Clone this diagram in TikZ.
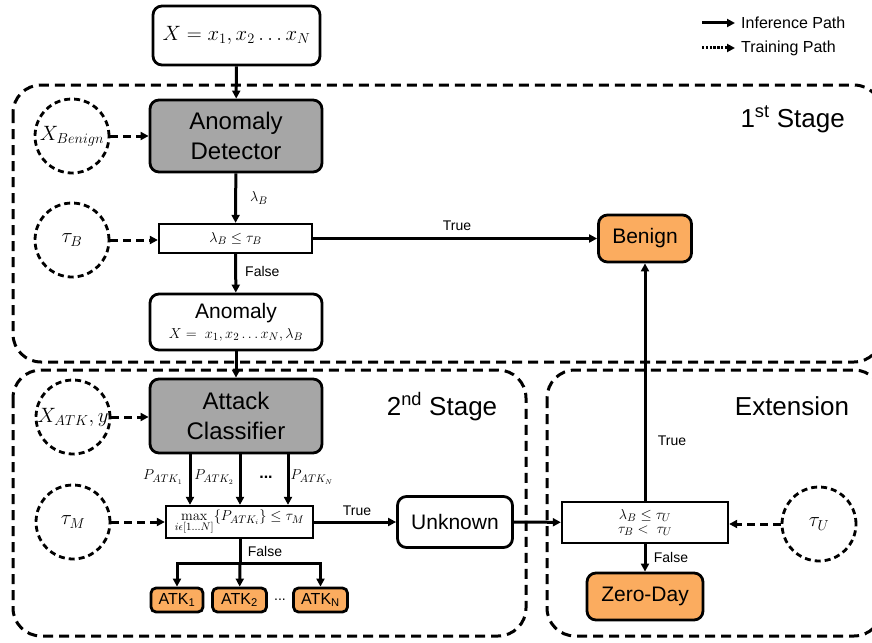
\documentclass[tikz,border=0pt]{standalone}
\usepackage[no-math]{fontspec}
\setmainfont{Liberation Sans}
\usetikzlibrary{arrows.meta}
\definecolor{boxgray}{RGB}{166,166,166}
\definecolor{boxorange}{RGB}{251,172,95}
\begin{document}
\begin{tikzpicture}[x=1pt,y=-1pt,
  tipA/.style={-{Triangle[length=8pt,width=8pt]}},
  flow/.style={line width=3pt,tipA},
  train/.style={line width=3pt,dash pattern=on 8pt off 5pt,tipA},
  stagebox/.style={line width=3pt,dash pattern=on 10pt off 6pt,rounded corners=28pt},
  rbox/.style={draw,line width=2.8pt,rounded corners=9pt,inner sep=0pt,align=center},
  grayblock/.style={rbox,fill=boxgray,font=\fontsize{24}{30}\selectfont},
  whiteblock/.style={rbox,fill=white,font=\fontsize{21}{24}\selectfont},
  orangeblock/.style={rbox,fill=boxorange,font=\fontsize{21}{24}\selectfont},
  atkblock/.style={rbox,rounded corners=5pt,fill=boxorange,font=\fontsize{16}{18}\selectfont,minimum width=54pt,minimum height=24pt},
  decision/.style={draw,line width=2.3pt,fill=white,inner sep=0pt,align=center,font=\fontsize{15}{17}\selectfont},
  param/.style={draw,circle,line width=2.8pt,dash pattern=on 6pt off 4pt,minimum size=74pt,inner sep=0pt,font=\fontsize{21}{23}\selectfont},
  lbl/.style={font=\fontsize{14}{16}\selectfont,inner sep=0pt},
  mlbl/.style={font=\fontsize{15}{17}\selectfont,inner sep=0pt},
  stagelbl/.style={font=\fontsize{26}{30}\selectfont,inner sep=0pt},
  legendlbl/.style={font=\fontsize{16}{18}\selectfont,inner sep=0pt,anchor=west}
]
\clip (0,0) rectangle (872,642);
\fill[white] (0,0) rectangle (872,642);

% stage boxes
\draw[stagebox] (13,85) rectangle (882,362);
\draw[stagebox] (13,370) rectangle (526,636);
\draw[stagebox] (547,370) rectangle (882,636);
\node[stagelbl,anchor=base east] (s1lbl) at (845,127) {1\textsuperscript{st} Stage};
\node[stagelbl,anchor=base] (s2lbl) at (442,415) {2\textsuperscript{nd} Stage};
\node[stagelbl,anchor=base] (s3lbl) at (792,415) {Extension};

% legend
\coordinate (l1a) at (702,23); \coordinate (l1b) at (735,23);
\coordinate (l2a) at (702,48); \coordinate (l2b) at (735,48);
\draw[flow] (l1a) -- (l1b);
\draw[line width=3pt,dash pattern=on 2.4pt off 1.4pt,tipA] (l2a) -- (l2b);
\node[legendlbl] (leg1) at (741,23) {Inference Path};
\node[legendlbl] (leg2) at (741,48) {Training Path};

% nodes
\node[whiteblock,minimum width=167pt,minimum height=59pt,font=\fontsize{21}{23}\selectfont] (xin) at (236.5,35.5) {$X = x_1, x_2 \ldots x_N$};
\node[grayblock,minimum width=172pt,minimum height=72pt] (ad) at (236,136) {Anomaly\\Detector};
\node[param] (xb) at (72,136) {$X_{Benign}$};
\node[param] (tb) at (72,240) {$\tau_B$};
\node[decision,minimum width=153pt,minimum height=29pt] (d1) at (235.5,238.5) {$\lambda_B \le \tau_B$};
\node[whiteblock,minimum width=172pt,minimum height=56pt] (anom) at (236,322)
  {Anomaly\\[-4pt]{\fontsize{15}{17}\selectfont$X =\ x_1, x_2 \ldots x_N, \lambda_B$}};
\node[orangeblock,minimum width=93pt,minimum height=47pt] (benign) at (645,238.5) {Benign};

\node[grayblock,minimum width=172pt,minimum height=74pt] (ac) at (236,416) {Attack\\Classifier};
\node[param] (xatk) at (73,417) {$X_{ATK}, y$};
\node[param] (tm) at (73,522) {$\tau_M$};
\node[decision,minimum width=147pt,minimum height=32pt] (dm) at (239.5,522)
  {$\max\limits_{i\epsilon[1\ldots N]}\{P_{ATK_i}\} \le \tau_M$};
\node[whiteblock,minimum width=115pt,minimum height=51pt] (unk) at (455,522) {Unknown};
\node[atkblock,minimum width=52pt] (atk1) at (177,600) {ATK\textsubscript{1}};
\node[atkblock] (atk2) at (239.5,600) {ATK\textsubscript{2}};
\node[atkblock] (atkn) at (320.5,600) {ATK\textsubscript{N}};
\node[font=\fontsize{14}{16}\selectfont,inner sep=0pt] (atkdots) at (280,600) {...};

\node[decision,minimum width=166pt,minimum height=41pt] (de) at (645,522.5)
  {$\lambda_B \le \tau_U$\\[-3pt]$\tau_B <\ \tau_U$};
\node[orangeblock,minimum width=116pt,minimum height=47pt] (zd) at (645,596.5) {Zero-Day};
\node[param] (tu) at (819,524) {$\tau_U$};

% connectors stage 1
\draw[flow] (xin) -- (ad);
\draw[train] (xb) -- (ad.west |- xb);
\draw[flow] (ad) -- (d1);
\node[mlbl] (lamlbl) at (259,198) {$\lambda_B$};
\draw[train] (tb) -- (d1.west |- tb);
\draw[flow] (d1) -- (benign);
\node[lbl] (t1) at (457,226) {True};
\draw[flow] (d1) -- (anom);
\node[lbl,anchor=west] (f1) at (245,271) {False};
\draw[flow] (anom) -- (ac);

% stage 2
\draw[train] (xatk) -- (ac.west |- xatk);
\coordinate (p1) at (190,0); \coordinate (p2) at (240,0); \coordinate (p3) at (288,0);
\draw[flow] (ac.south -| p1) -- (dm.north -| p1);
\draw[flow] (ac.south -| p2) -- (dm.north -| p2);
\draw[flow] (ac.south -| p3) -- (dm.north -| p3);
\node[mlbl] (pa1) at (163,477) {$P_{ATK_1}$};
\node[mlbl] (pa2) at (214,477) {$P_{ATK_2}$};
\node[font=\bfseries\fontsize{16}{18}\selectfont,inner sep=0pt] (pdots) at (266,477) {...};
\node[mlbl] (pan) at (312,477) {$P_{ATK_N}$};
\draw[train] (tm) -- (dm.west |- tm);
\draw[flow] (dm) -- (unk);
\node[lbl] (t2) at (357,511) {True};
\coordinate (br) at (240,563);
\draw[line width=3pt] (dm.south -| br) -- (br);
\draw[flow] (br) -| (atk1);
\draw[flow] (br) -- (atk2);
\draw[flow] (br) -| (atkn);
\node[lbl] (f2) at (265,551) {False};

% extension
\draw[flow] (unk) -- (de);
\draw[flow] (de) -- (benign);
\node[lbl] (t3) at (672,441) {True};
\draw[train] (tu) -- (de.east |- tu);
\draw[flow] (de) -- (zd);
\node[lbl] (f3) at (671,557) {False};
\end{tikzpicture}
\end{document}
